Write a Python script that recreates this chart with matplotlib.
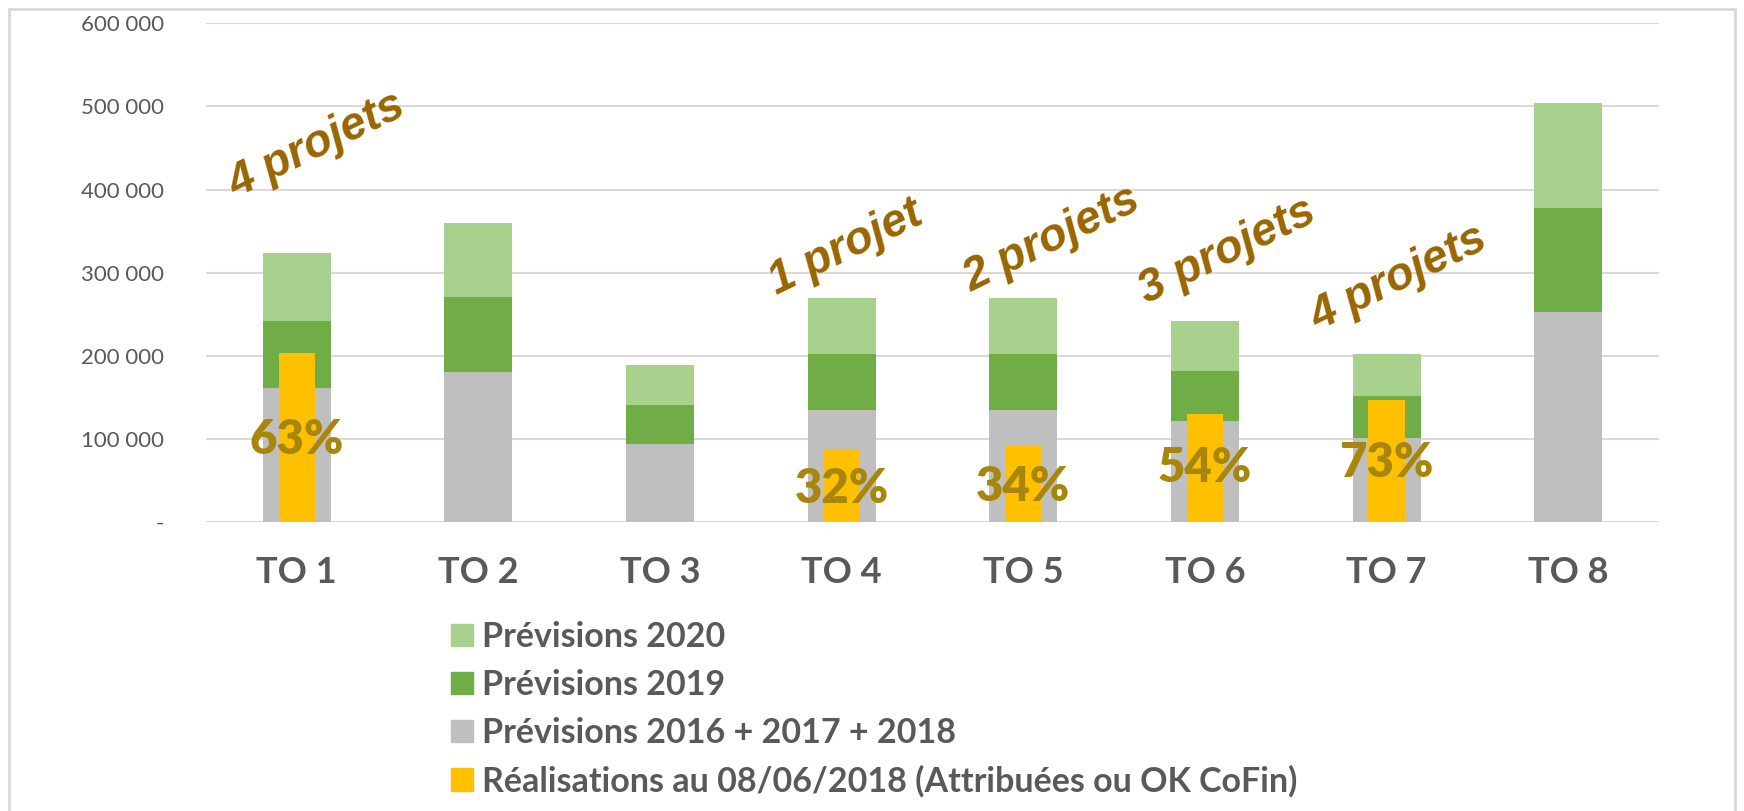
import numpy as np
import matplotlib.pyplot as plt
from matplotlib.patches import Patch, Rectangle
from matplotlib.ticker import FuncFormatter

# Catégories
categories = ["TO 1", "TO 2", "TO 3", "TO 4", "TO 5", "TO 6", "TO 7", "TO 8"]

# Prévisions (montants empilés)
prev_2016_2018 = [161000, 180000, 94000, 135000, 135000, 121000, 101000, 252000]
prev_2019 = [81000, 90000, 47000, 67000, 67000, 61000, 50000, 126000]
prev_2020 = [81000, 90000, 48000, 67000, 67000, 60000, 51000, 126000]

# Réalisations au 08/06/2018 (0 = pas de réalisation)
realisations = [203000, 0, 0, 87000, 91000, 130000, 147000, 0]
taux = ["63%", "", "", "32%", "34%", "54%", "73%", ""]

# Nombre de projets
projets = ["4 projets", "", "", "1 projet", "2 projets", "3 projets", "4 projets", ""]

legende = ["Prévisions 2020", "Prévisions 2019", "Prévisions 2016 + 2017 + 2018",
           "Réalisations au 08/06/2018 (Attribuées ou OK CoFin)"]

c_2020 = "#A9D18E"
c_2019 = "#70AD47"
c_base = "#BFBFBF"
c_real = "#FFC000"
gris_txt = "#595959"

fig = plt.figure(figsize=(17.44, 8.11), dpi=100)
ax = fig.add_axes([0.1181, 0.3568, 0.8332, 0.6143])

x = np.arange(len(categories))
base = np.array(prev_2016_2018)
b19 = np.array(prev_2019)
b20 = np.array(prev_2020)

ax.bar(x, base, width=0.375, color=c_base, zorder=2)
ax.bar(x, b19, width=0.375, bottom=base, color=c_2019, zorder=2)
ax.bar(x, b20, width=0.375, bottom=base + b19, color=c_2020, zorder=2)
ax.bar(x, realisations, width=0.2, color=c_real, zorder=3)

# Pourcentages de réalisation (position verticale des étiquettes)
y_taux = [98000, 0, 0, 39000, 42000, 65000, 71000, 0]
for i in range(len(categories)):
    if taux[i]:
        ax.text(x[i], y_taux[i], taux[i], ha="center", va="center",
                fontsize=34, fontweight="heavy", color="#A8860C",
                family="Lato", zorder=4)

# Annotations "projets"
pos_projets = [(0.11, 453000), (0, 0), (0, 0), (3.02, 330000), (4.16, 340000),
               (5.12, 326000), (6.07, 293000), (0, 0)]
for i in range(len(categories)):
    if projets[i]:
        ax.text(pos_projets[i][0], pos_projets[i][1], projets[i],
                ha="center", va="center", rotation=26, fontsize=33,
                fontweight="bold", fontstyle="italic", color="#996600",
                family="Liberation Sans", zorder=4)

# Axes
ax.set_xlim(-0.5, 7.5)
ax.set_ylim(0, 600000)
ax.set_yticks(np.arange(0, 600001, 100000))
ax.yaxis.set_major_formatter(FuncFormatter(
    lambda v, p: "-" if v == 0 else "{:,.0f}".format(v).replace(",", " ")))
ax.set_xticks(x)
ax.set_xticklabels(categories, fontsize=26, fontweight="bold", color=gris_txt,
                   family="Lato")
ax.tick_params(axis="x", length=0, pad=25)
ax.tick_params(axis="y", length=0, pad=30, labelsize=16, labelcolor=gris_txt)
for lab in ax.get_yticklabels():
    lab.set_family("Lato")

# Grille
ax.grid(axis="y", color="#D9D9D9", linewidth=1.5, zorder=0)
ax.set_axisbelow(True)
for s in ax.spines.values():
    s.set_visible(False)

# Légende
handles = [Patch(color=c_2020), Patch(color=c_2019), Patch(color=c_base), Patch(color=c_real)]
leg = fig.legend(handles, legende, loc="upper left", bbox_to_anchor=(0.241, 0.272),
                 frameon=False, handlelength=0.65, handleheight=0.65, handletextpad=0.25,
                 labelspacing=0.47, prop={"family": "Lato", "weight": "bold", "size": 24.5})
for t in leg.get_texts():
    t.set_color(gris_txt)

# Cadre
fig.add_artist(Rectangle((9 / 1744, -0.05), (1735 - 9) / 1744, 1.05 - 9 / 811,
                         transform=fig.transFigure, fill=False,
                         edgecolor="#D9D9D9", linewidth=2))

plt.savefig("out.png", dpi=100)
